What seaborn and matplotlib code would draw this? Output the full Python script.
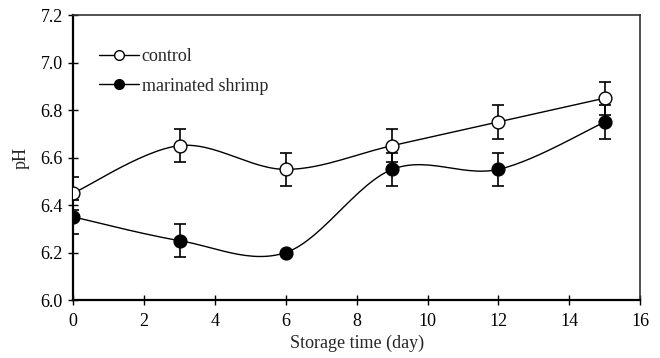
import numpy as np
import pandas as pd
import matplotlib
matplotlib.use("Agg")
import matplotlib.pyplot as plt
import seaborn as sns
from matplotlib.lines import Line2D

days = [0, 3, 6, 9, 12, 15]
ph_control = [6.45, 6.65, 6.55, 6.65, 6.75, 6.85]
err_control = [0.07, 0.07, 0.07, 0.07, 0.07, 0.07]
ph_marinated = [6.35, 6.25, 6.20, 6.55, 6.55, 6.75]
err_marinated = [0.07, 0.07, 0.0, 0.07, 0.07, 0.07]


def smooth(x, y, n=30):
    # Excel-style smoothed line (Bezier, control points from neighbours)
    x = np.asarray(x, float)
    y = np.asarray(y, float)
    px = np.r_[x[0], x, x[-1]]
    py = np.r_[y[0], y, y[-1]]
    xs, ys = [], []
    t = np.linspace(0, 1, n)
    for i in range(1, len(px) - 2):
        p0 = np.array([px[i], py[i]])
        p3 = np.array([px[i + 1], py[i + 1]])
        c1 = p0 + (np.array([px[i + 1], py[i + 1]]) - np.array([px[i - 1], py[i - 1]])) / 6
        c2 = p3 - (np.array([px[i + 2], py[i + 2]]) - np.array([px[i], py[i]])) / 6
        b = (((1 - t) ** 3)[:, None] * p0 + (3 * (1 - t) ** 2 * t)[:, None] * c1
             + (3 * (1 - t) * t ** 2)[:, None] * c2 + (t ** 3)[:, None] * p3)
        xs.extend(b[:, 0])
        ys.extend(b[:, 1])
    return xs, ys


sns.set_style("ticks")
plt.rcParams["font.family"] = ["Liberation Serif", "DejaVu Serif"]
fs = 13

fig, ax = plt.subplots(figsize=(6.6, 3.58), dpi=100)
fig.subplots_adjust(left=0.111, right=0.970, top=0.958, bottom=0.162)

series = [
    ("control", ph_control, err_control, "white"),
    ("marinated shrimp", ph_marinated, err_marinated, "black"),
]
handles = []
for name, ph, err, face in series:
    sx, sy = smooth(days, ph)
    sns.lineplot(x=sx, y=sy, sort=False, estimator=None, color="black", lw=1.0, ax=ax)
    ax.errorbar(days, ph, yerr=err, fmt="none", ecolor="black", elinewidth=1.2,
                capsize=4, capthick=1.2, zorder=3)
    df = pd.DataFrame({"day": days, "ph": ph})
    sns.scatterplot(data=df, x="day", y="ph", s=85, color=face, edgecolor="black",
                    linewidth=1.0, zorder=4, ax=ax)
    handles.append(Line2D([], [], color="black", lw=1.0, marker="o", markersize=7,
                          markerfacecolor=face, markeredgecolor="black", label=name))

ax.legend(handles=handles, loc="upper left", bbox_to_anchor=(0.033, 0.91), frameon=False,
          handlelength=2.2, handletextpad=0.15, labelspacing=0.7, borderaxespad=0,
          fontsize=fs)

ax.set_xlim(0, 16)
ax.set_ylim(6.0, 7.2)
ax.set_xticks(range(0, 17, 2))
ax.set_yticks(np.arange(6.0, 7.21, 0.2))
ax.yaxis.set_major_formatter(matplotlib.ticker.FormatStrFormatter("%.1f"))
ax.set_xlabel("Storage time (day)", fontsize=fs, labelpad=3)
ax.set_ylabel("pH", fontsize=fs, labelpad=8)
ax.tick_params(direction="inout", length=7, width=1.0, colors="black", labelsize=fs, pad=4)
ax.tick_params(axis="x", pad=6)

for side in ["left", "bottom"]:
    ax.spines[side].set_linewidth(1.6)
    ax.spines[side].set_color("black")
for side in ["top", "right"]:
    ax.spines[side].set_visible(True)
    ax.spines[side].set_linewidth(1.2)
    ax.spines[side].set_color("#333333")

fig.savefig("out.png", dpi=100)
